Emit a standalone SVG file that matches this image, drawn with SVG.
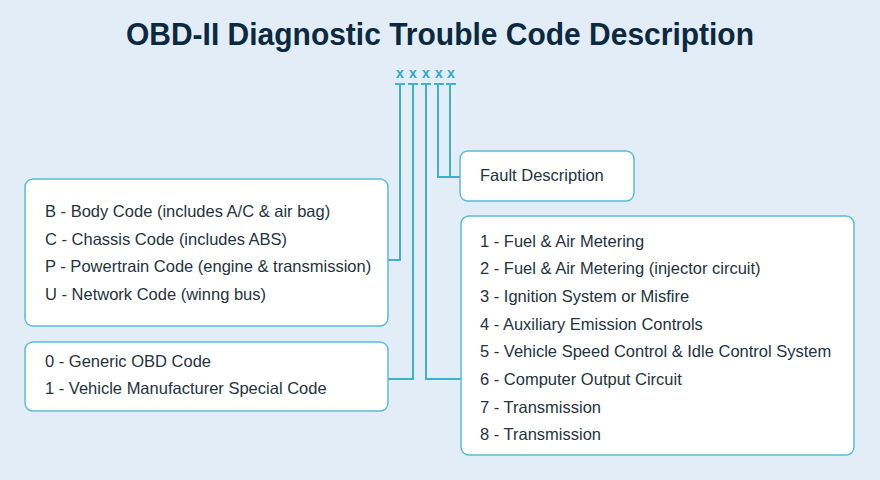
<svg xmlns="http://www.w3.org/2000/svg" width="880" height="480" viewBox="0 0 880 480">
<style>
.bg{fill:#e3edf8}
.box{fill:#ffffff;stroke:#5bbcd6;stroke-width:1.5}
.t{font-family:"Liberation Sans",Arial,sans-serif;font-size:16.5px;fill:#1f3340}
.title{font-family:"Liberation Sans",Arial,sans-serif;font-size:32px;font-weight:bold;fill:#0b2a40}
.x{font-family:"Liberation Sans",Arial,sans-serif;font-size:14px;font-weight:bold;fill:#2aa8c8;text-anchor:middle}
.ln{fill:none;stroke:#3fb0cf;stroke-width:2}
</style>
<rect class="bg" x="0" y="0" width="880" height="480"/>
<text class="title" x="440" y="45" text-anchor="middle" textLength="628" lengthAdjust="spacingAndGlyphs">OBD-II Diagnostic Trouble Code Description</text>
<g id="code">
<text class="x" x="400" y="78">x</text>
<text class="x" x="413" y="78">x</text>
<text class="x" x="426" y="78">x</text>
<text class="x" x="439" y="78">x</text>
<text class="x" x="451" y="78">x</text>
</g>
<g id="connectors">
<path class="ln" d="M395 84H405M408 84H418M421 84H431M434 84H444M446 84H456"/>
<path class="ln" d="M400 84V260H388"/>
<path class="ln" d="M413 84V379H388"/>
<path class="ln" d="M426 84V379H461"/>
<path class="ln" d="M438 84V177H460"/>
<path class="ln" d="M450 84V177"/>
</g>
<g id="system">
<rect class="box" x="25" y="179" width="363" height="147" rx="8"/>
<text class="t" x="45" y="217">B - Body Code (includes A/C &amp; air bag)</text>
<text class="t" x="45" y="245">C - Chassis Code (includes ABS)</text>
<text class="t" x="45" y="272">P - Powertrain Code (engine &amp; transmission)</text>
<text class="t" x="45" y="300">U - Network Code (winng bus)</text>
</g>
<g id="type">
<rect class="box" x="25" y="342" width="363" height="69" rx="8"/>
<text class="t" x="45" y="367">0 - Generic OBD Code</text>
<text class="t" x="45" y="394">1 - Vehicle Manufacturer Special Code</text>
</g>
<g id="fault">
<rect class="box" x="460" y="151" width="174" height="50" rx="8"/>
<text class="t" x="480" y="181">Fault Description</text>
</g>
<g id="subsystem">
<rect class="box" x="461" y="216" width="393" height="239" rx="8"/>
<text class="t" x="480" y="247">1 - Fuel &amp; Air Metering</text>
<text class="t" x="480" y="274">2 - Fuel &amp; Air Metering (injector circuit)</text>
<text class="t" x="480" y="302">3 - Ignition System or Misfire</text>
<text class="t" x="480" y="330">4 - Auxiliary Emission Controls</text>
<text class="t" x="480" y="357">5 - Vehicle Speed Control &amp; Idle Control System</text>
<text class="t" x="480" y="385">6 - Computer Output Circuit</text>
<text class="t" x="480" y="413">7 - Transmission</text>
<text class="t" x="480" y="440">8 - Transmission</text>
</g>
</svg>
